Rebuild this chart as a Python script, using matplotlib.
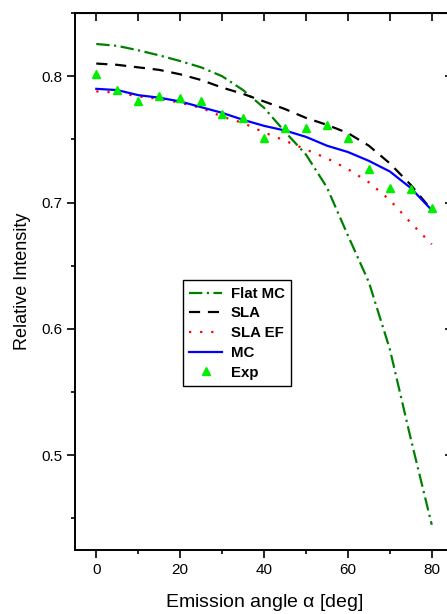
import matplotlib.pyplot as plt
from matplotlib.ticker import MultipleLocator

plt.rcParams['font.family'] = ['Liberation Sans', 'DejaVu Sans']

# emission angle grid, shared by all curves and the measurement
angle = [0, 5, 10, 15, 20, 25, 30, 35, 40, 45, 50, 55, 60, 65, 70, 75, 80]

flat_mc = [0.8255, 0.824, 0.8205, 0.8165, 0.812, 0.807, 0.800, 0.789, 0.775,
           0.756, 0.738, 0.712, 0.674, 0.637, 0.584, 0.513, 0.445]
sla = [0.810, 0.809, 0.807, 0.805, 0.8015, 0.797, 0.791, 0.786, 0.780,
       0.774, 0.767, 0.7615, 0.755, 0.745, 0.731, 0.714, 0.694]
sla_ef = [0.788, 0.787, 0.784, 0.782, 0.779, 0.775, 0.768, 0.763, 0.7555,
          0.749, 0.742, 0.735, 0.7265, 0.716, 0.702, 0.684, 0.667]
mc = [0.790, 0.789, 0.785, 0.783, 0.780, 0.7755, 0.771, 0.7655, 0.7607,
      0.757, 0.752, 0.745, 0.740, 0.733, 0.7246, 0.7115, 0.694]
exp = [0.802, 0.789, 0.780, 0.784, 0.783, 0.780, 0.770, 0.767, 0.751,
       0.759, 0.759, 0.761, 0.751, 0.7265, 0.7115, 0.711, 0.696]

fig = plt.figure(figsize=(4.47, 6.14), dpi=100)
# right spine sits just past the edge of the canvas
ax_main = fig.add_axes([0.1685, 0.1042, 0.8443, 0.8746])

ax_main.plot(angle, flat_mc, color='#008000', lw=1.6,
             linestyle=(0, (6, 2, 1, 2)), label='Flat MC')
ax_main.plot(angle, sla, color='black', lw=1.6,
             linestyle=(0, (5, 3.5)), label='SLA')
ax_main.plot(angle, sla_ef, color='#ff0000', lw=1.6,
             linestyle=(0, (1, 4)), label='SLA EF')
ax_main.plot(angle, mc, color='#0000ff', lw=1.6, label='MC')
ax_main.plot(angle, exp, linestyle='none', marker='^', ms=6,
             color='#00ee00', label='Exp')

ax_main.set_xlim(-5, 85)
ax_main.set_ylim(0.425, 0.85)

ax_main.xaxis.set_major_locator(MultipleLocator(20))
ax_main.xaxis.set_minor_locator(MultipleLocator(10))
ax_main.yaxis.set_major_locator(MultipleLocator(0.1))
ax_main.yaxis.set_minor_locator(MultipleLocator(0.05))
ax_main.yaxis.set_major_formatter(lambda v, pos: f'{v:.1f}')

ax_main.tick_params(which='major', direction='out', length=6, width=1.2,
                    labelsize=11, pad=3)
ax_main.tick_params(which='minor', direction='out', length=3, width=1.2)

for spine in ax_main.spines.values():
    spine.set_linewidth(1.4)

# inward ticks on the top and right edges
ax_top = ax_main.secondary_xaxis('top')
ax_top.set_xticks(range(0, 81, 10))
ax_top.tick_params(direction='in', length=6, width=1.2, labeltop=False)
ax_right = ax_main.secondary_yaxis('right')
ax_right.set_yticks([0.5, 0.6, 0.7, 0.8])
ax_right.tick_params(direction='in', length=6, width=1.2, labelright=False)

ax_main.set_xlabel(r'Emission angle $\mathregular{\alpha}$ [deg]',
                   fontsize=14, labelpad=11)
ax_main.set_ylabel('Relative Intensity', fontsize=13, labelpad=8)

leg = ax_main.legend(
    loc='upper left',
    bbox_to_anchor=(0.2846, 0.5028),
    borderaxespad=0.,
    fancybox=False,
    edgecolor='black',
    framealpha=1,
    numpoints=1,
    handlelength=2.2,
    handletextpad=0.55,
    labelspacing=0.38,
    borderpad=0.45,
    prop={'weight': 'bold', 'size': 10.8},
)
leg.get_frame().set_linewidth(1.0)

fig.savefig('out.png', dpi=100)
